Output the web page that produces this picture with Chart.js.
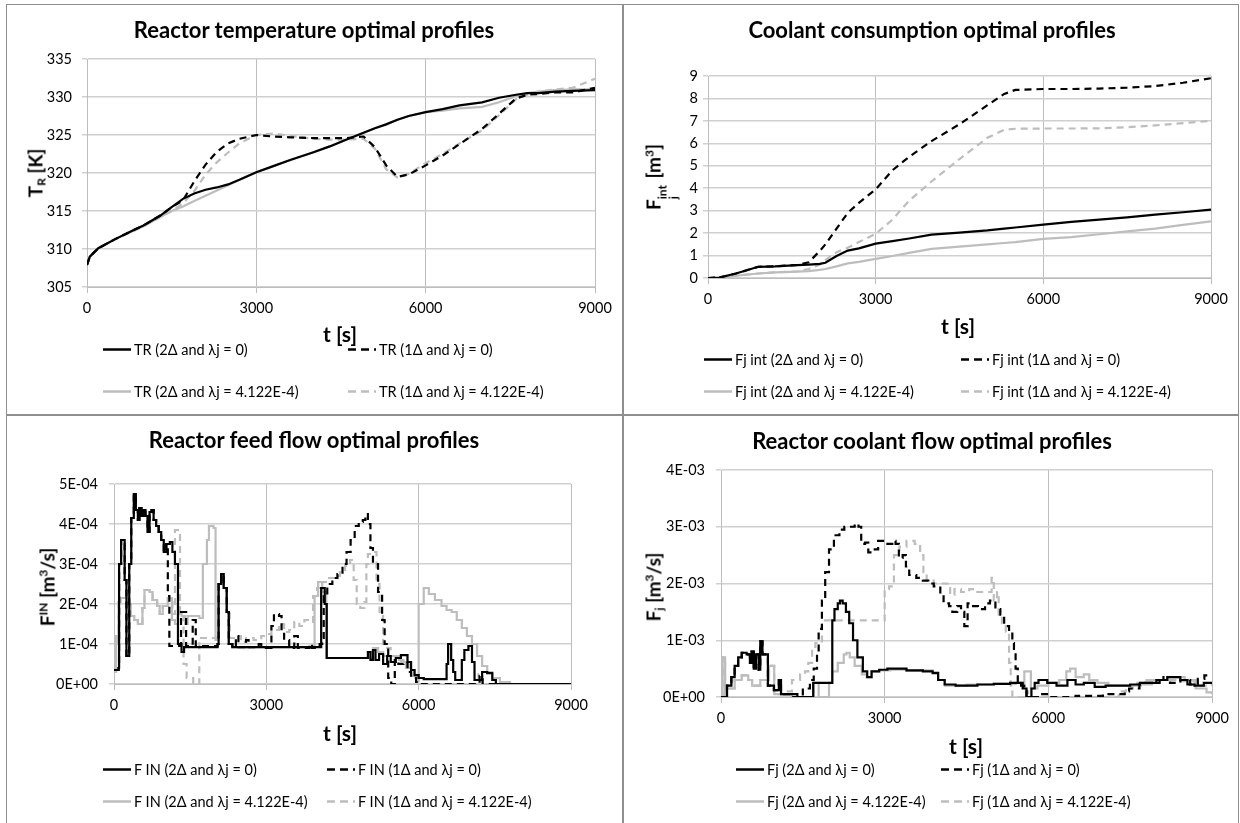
<!DOCTYPE html>
<html lang="en">
<head>
<meta charset="UTF-8">
<title>Reactor optimal profiles</title>
<script src="https://cdn.jsdelivr.net/npm/chart.js"></script>
<style>
  body { margin: 0; background: #fff; font-family: Lato, 'Noto Sans', sans-serif; color: #000; }
  #page { position: relative; width: 1240px; height: 823px; overflow: hidden; background: #fff; }
  .frame { position: absolute; left: 6px; top: 4px; width: 1231px; height: 830px; border: 1px solid #8e8e8e; }
  .vdiv { position: absolute; left: 622px; top: 5px; width: 2px; height: 818px; background: #8e8e8e; }
  .hdiv { position: absolute; left: 7px; top: 414px; width: 1231px; height: 2px; background: #8e8e8e; }
  .panel { position: absolute; }
  .title, .xtitle, .ytitle { position: absolute; font-weight: bold; white-space: nowrap; transform: translate(-50%, -50%); }
  .title { font-size: 22px; }
  .xtitle { font-size: 21px; }
  .ytitle { font-size: 19px; transform: translate(-50%, -50%) rotate(-90deg); }
  .ytitle sub { font-size: 12px; vertical-align: -3px; }
  .ytitle sup { font-size: 12px; vertical-align: 7px; }
  .ss { display: inline-flex; flex-direction: column; font-size: 12px; line-height: 11px; vertical-align: -6px; margin-right: 2px; }
  .item { position: absolute; display: flex; align-items: center; transform: translateY(-50%); white-space: nowrap; font-size: 14.5px; }
  .item svg { margin-right: 3px; }
</style>
</head>
<body>
<div id="page">
  <div class="frame"></div>
  <div class="vdiv"></div>
  <div class="hdiv"></div>
</div>
<script>
  // time axis
  const timeTicks = [0, 3000, 6000, 9000];

  // reactor temperature [K]
  const trTime = [0, 50, 200, 500, 800, 1000, 1300, 1500, 1700, 1900, 2100, 2300, 2500, 2700, 3000, 3300, 3600, 4000, 4300, 4600, 4900, 5100, 5300, 5500, 5700, 6000, 6300, 6600, 7000, 7300, 7600, 7800, 8000, 8300, 8600, 9000];
  const tr2d0 = [307.9, 309.0, 310.1, 311.3, 312.4, 313.1, 314.4, 315.5, 316.6, 317.3, 317.8, 318.1, 318.5, 319.1, 320.1, 320.9, 321.7, 322.7, 323.5, 324.4, 325.3, 325.9, 326.4, 327.0, 327.5, 328.0, 328.4, 328.9, 329.3, 329.9, 330.3, 330.5, 330.5, 330.7, 330.8, 330.9];
  const tr1d0 = [307.9, 309.0, 310.1, 311.3, 312.4, 313.1, 314.4, 315.5, 316.4, 318.9, 321.1, 322.8, 323.9, 324.5, 325.0, 324.8, 324.7, 324.6, 324.6, 324.6, 324.8, 323.4, 321.0, 319.5, 319.8, 321.0, 322.3, 323.8, 325.8, 327.8, 329.8, 330.3, 330.4, 330.6, 330.6, 331.2];
  const tr2dL = [307.9, 309.0, 310.1, 311.3, 312.3, 313.0, 314.2, 315.0, 315.6, 316.3, 317.0, 317.7, 318.4, 319.1, 320.1, 320.9, 321.7, 322.7, 323.5, 324.4, 325.3, 325.9, 326.4, 327.0, 327.5, 328.0, 328.2, 328.5, 328.7, 329.3, 330.1, 330.5, 330.7, 330.9, 331.0, 331.0];
  const tr1dL = [307.9, 309.0, 310.1, 311.3, 312.3, 313.0, 314.2, 315.0, 316.0, 317.6, 319.8, 321.4, 322.7, 323.9, 325.0, 325.2, 324.9, 324.5, 324.4, 324.4, 324.5, 323.2, 320.5, 319.4, 319.9, 321.3, 322.5, 323.9, 325.6, 327.6, 329.7, 330.3, 330.7, 331.0, 331.2, 332.4];

  // coolant consumption [m3]
  const fjTime = [0, 200, 500, 900, 1200, 1600, 1800, 2000, 2100, 2300, 2500, 2700, 3000, 3300, 3600, 4000, 4500, 5000, 5300, 5500, 6000, 6500, 7000, 7500, 8000, 8500, 9000];
  const fjInt2d0 = [0, 0.02, 0.2, 0.5, 0.52, 0.57, 0.6, 0.63, 0.68, 0.98, 1.22, 1.32, 1.53, 1.64, 1.76, 1.93, 2.02, 2.12, 2.2, 2.25, 2.38, 2.5, 2.6, 2.7, 2.82, 2.93, 3.05];
  const fjInt1d0 = [0, 0.02, 0.2, 0.5, 0.52, 0.58, 0.7, 1.2, 1.5, 2.2, 2.9, 3.35, 3.95, 4.8, 5.4, 6.1, 6.85, 7.7, 8.2, 8.38, 8.42, 8.42, 8.44, 8.48, 8.55, 8.7, 8.9];
  const fjInt2dL = [0, 0.01, 0.1, 0.2, 0.25, 0.28, 0.31, 0.36, 0.4, 0.52, 0.65, 0.72, 0.85, 0.98, 1.12, 1.3, 1.4, 1.5, 1.56, 1.6, 1.74, 1.82, 1.95, 2.08, 2.2, 2.37, 2.52];
  const fjInt1dL = [0, 0.01, 0.1, 0.2, 0.25, 0.3, 0.4, 0.6, 0.8, 1.15, 1.35, 1.6, 1.97, 2.6, 3.45, 4.3, 5.3, 6.25, 6.6, 6.65, 6.66, 6.66, 6.67, 6.72, 6.8, 6.9, 7.0];

  // reactor feed flow [m3/s], [t, value] steps
  const fin2d0 = [[0, 0.35e-4], [90, 0.4e-4], [100, 3.0e-4], [140, 3.6e-4], [210, 2.6e-4], [245, 0.7e-4], [300, 3.0e-4], [340, 4.15e-4], [390, 4.75e-4], [430, 4.35e-4], [470, 4.1e-4], [500, 4.4e-4], [540, 4.2e-4], [580, 4.35e-4], [620, 4.2e-4], [660, 3.8e-4], [700, 4.3e-4], [740, 4.35e-4], [780, 4.1e-4], [830, 3.95e-4], [880, 3.8e-4], [930, 3.6e-4], [980, 3.3e-4], [1030, 3.5e-4], [1100, 3.55e-4], [1150, 3.3e-4], [1200, 3.0e-4], [1260, 1.0e-4], [1330, 0.8e-4], [1380, 0.92e-4], [2040, 1.0e-4], [2060, 2.5e-4], [2110, 2.75e-4], [2160, 2.4e-4], [2220, 1.8e-4], [2260, 1.0e-4], [2330, 0.92e-4], [4020, 0.92e-4], [4080, 2.4e-4], [4150, 2.0e-4], [4190, 0.65e-4], [4950, 0.65e-4], [5000, 0.8e-4], [5050, 0.6e-4], [5100, 0.85e-4], [5150, 0.6e-4], [5220, 0.75e-4], [5300, 0.5e-4], [5380, 0.7e-4], [5450, 0.55e-4], [5550, 0.65e-4], [5650, 0.72e-4], [5780, 0.55e-4], [5850, 0.35e-4], [5920, 0.22e-4], [6000, 0.15e-4], [6100, 0.12e-4], [6550, 0.5e-4], [6580, 1.0e-4], [6640, 0.6e-4], [6680, 0.3e-4], [6720, 0.1e-4], [6850, 0.6e-4], [6900, 0.85e-4], [6980, 0.95e-4], [7050, 0.55e-4], [7100, 0.1e-4], [7250, 0.3e-4], [7350, 0.28e-4], [7450, 0.1e-4], [7520, 0], [9000, 0]];
  const fin1d0 = [[0, 0.35e-4], [90, 0.4e-4], [100, 3.0e-4], [140, 3.6e-4], [210, 2.6e-4], [245, 0.7e-4], [300, 3.0e-4], [340, 4.15e-4], [390, 4.75e-4], [430, 4.35e-4], [470, 4.1e-4], [500, 4.4e-4], [540, 4.2e-4], [580, 4.35e-4], [620, 4.2e-4], [660, 3.8e-4], [700, 4.3e-4], [740, 4.35e-4], [780, 4.1e-4], [830, 3.95e-4], [880, 3.8e-4], [930, 3.6e-4], [980, 3.3e-4], [1030, 3.5e-4], [1060, 2.2e-4], [1090, 0.95e-4], [1320, 1.8e-4], [1420, 0.95e-4], [1550, 1.6e-4], [1610, 0.95e-4], [2040, 1.0e-4], [2060, 2.5e-4], [2110, 2.75e-4], [2160, 2.4e-4], [2220, 1.8e-4], [2260, 1.0e-4], [2330, 0.92e-4], [2400, 1.2e-4], [2450, 0.92e-4], [2600, 1.1e-4], [2650, 0.92e-4], [2850, 1.0e-4], [2900, 0.9e-4], [3100, 1.45e-4], [3150, 1.75e-4], [3250, 1.7e-4], [3300, 1.3e-4], [3350, 1.1e-4], [3450, 0.9e-4], [3550, 1.2e-4], [3620, 0.9e-4], [3850, 1.0e-4], [3900, 0.9e-4], [4050, 1.0e-4], [4100, 1.15e-4], [4130, 2.2e-4], [4200, 2.5e-4], [4300, 2.65e-4], [4400, 2.75e-4], [4500, 3.0e-4], [4580, 3.3e-4], [4660, 3.6e-4], [4740, 3.95e-4], [4820, 4.05e-4], [4900, 4.1e-4], [4950, 4.25e-4], [5000, 4.0e-4], [5050, 3.4e-4], [5100, 3.0e-4], [5200, 2.3e-4], [5280, 1.6e-4], [5330, 1.0e-4], [5400, 0.15e-4], [5460, 0], [5530, 0.6e-4], [5600, 0.5e-4], [5700, 0.55e-4], [5780, 0.3e-4], [5850, 0.15e-4], [5950, 0.05e-4], [6000, 0], [7200, 0.2e-4], [7260, 0], [9000, 0]];
  const fin2dL = [[0, 0.3e-4], [40, 1.2e-4], [70, 1.0e-4], [90, 2.05e-4], [130, 2.15e-4], [280, 2.0e-4], [330, 1.7e-4], [400, 1.6e-4], [470, 1.5e-4], [560, 1.9e-4], [600, 2.35e-4], [700, 2.3e-4], [760, 2.1e-4], [850, 1.95e-4], [900, 1.75e-4], [960, 1.95e-4], [1060, 2.15e-4], [1140, 1.6e-4], [1200, 1.5e-4], [1260, 1.75e-4], [1330, 1.7e-4], [1400, 1.5e-4], [1450, 1.7e-4], [1600, 1.7e-4], [1680, 1.65e-4], [1750, 3.0e-4], [1830, 3.6e-4], [1870, 3.95e-4], [1960, 3.9e-4], [2000, 1.1e-4], [2060, 2.5e-4], [2110, 2.75e-4], [2160, 2.4e-4], [2220, 1.8e-4], [2260, 1.0e-4], [2330, 0.92e-4], [3950, 2.2e-4], [4020, 2.55e-4], [4100, 2.3e-4], [4180, 0.65e-4], [5100, 0.9e-4], [5200, 0.8e-4], [5300, 0.7e-4], [5650, 0.55e-4], [5750, 0.4e-4], [5850, 0.2e-4], [5950, 0.15e-4], [6000, 2.0e-4], [6100, 2.4e-4], [6200, 2.25e-4], [6320, 2.1e-4], [6450, 1.95e-4], [6550, 1.85e-4], [6650, 1.8e-4], [6750, 1.6e-4], [6850, 1.4e-4], [6950, 1.2e-4], [7050, 1.0e-4], [7150, 0.7e-4], [7250, 0.45e-4], [7350, 0.25e-4], [7450, 0.15e-4], [7600, 0.05e-4], [7800, 0], [9000, 0]];
  const fin1dL = [[0, 0.3e-4], [40, 1.2e-4], [70, 1.0e-4], [90, 2.05e-4], [130, 2.15e-4], [280, 2.0e-4], [330, 1.7e-4], [400, 1.6e-4], [470, 1.5e-4], [560, 1.9e-4], [600, 2.35e-4], [700, 2.3e-4], [760, 2.1e-4], [850, 1.95e-4], [900, 1.75e-4], [960, 1.95e-4], [1060, 2.15e-4], [1150, 1.75e-4], [1200, 3.85e-4], [1300, 1.7e-4], [1370, 0.5e-4], [1430, 0.15e-4], [1560, 0], [1680, 1.15e-4], [2060, 2.5e-4], [2110, 2.75e-4], [2160, 2.4e-4], [2220, 1.8e-4], [2280, 1.15e-4], [2400, 1.2e-4], [2500, 1.05e-4], [2600, 1.15e-4], [2750, 1.1e-4], [2900, 1.2e-4], [3000, 1.25e-4], [3100, 1.35e-4], [3250, 1.5e-4], [3350, 1.3e-4], [3450, 1.35e-4], [3550, 1.55e-4], [3650, 1.45e-4], [3750, 1.6e-4], [3850, 1.55e-4], [3920, 2.2e-4], [4000, 2.4e-4], [4100, 2.55e-4], [4200, 2.65e-4], [4350, 2.7e-4], [4450, 2.85e-4], [4550, 2.95e-4], [4650, 3.1e-4], [4720, 2.6e-4], [4780, 2.0e-4], [4850, 1.9e-4], [4930, 2.05e-4], [4970, 3.0e-4], [5000, 3.25e-4], [5100, 3.3e-4], [5170, 2.5e-4], [5230, 1.8e-4], [5300, 1.0e-4], [5380, 0.9e-4], [5450, 0.7e-4], [5550, 0.6e-4], [5700, 0.5e-4], [5800, 0.35e-4], [5900, 0.2e-4], [6000, 0], [7180, 0.25e-4], [7250, 0], [9000, 0]];

  // reactor coolant flow [m3/s], [t, value] steps
  const fj2d0 = [[0, 0], [110, 0.2e-3], [190, 0.35e-3], [250, 0.55e-3], [315, 0.7e-3], [380, 0.78e-3], [470, 0.75e-3], [530, 0.6e-3], [560, 0.8e-3], [600, 0.5e-3], [640, 0.75e-3], [690, 0.48e-3], [720, 0.98e-3], [760, 0.75e-3], [860, 0.2e-3], [970, 0.12e-3], [1060, 0.3e-3], [1100, 0.05e-3], [1400, 0], [1690, 0.25e-3], [2040, 1.35e-3], [2080, 1.55e-3], [2140, 1.65e-3], [2180, 1.7e-3], [2230, 1.65e-3], [2290, 1.5e-3], [2350, 1.3e-3], [2420, 1.0e-3], [2500, 0.7e-3], [2600, 0.45e-3], [2680, 0.35e-3], [2760, 0.45e-3], [2900, 0.48e-3], [3050, 0.5e-3], [3400, 0.47e-3], [3700, 0.45e-3], [3880, 0.42e-3], [3980, 0.3e-3], [4100, 0.22e-3], [4300, 0.2e-3], [4700, 0.22e-3], [5000, 0.23e-3], [5300, 0.25e-3], [5530, 0.15e-3], [5600, 0], [5690, 0.15e-3], [5750, 0.25e-3], [5820, 0.3e-3], [5980, 0.25e-3], [6150, 0.2e-3], [6350, 0.3e-3], [6500, 0.22e-3], [6650, 0.25e-3], [6850, 0.18e-3], [7050, 0.2e-3], [7500, 0.22e-3], [7680, 0.25e-3], [7980, 0.3e-3], [8180, 0.35e-3], [8420, 0.3e-3], [8550, 0.22e-3], [8680, 0.2e-3], [8850, 0.25e-3], [9000, 0.25e-3]];
  const fj1d0 = [[0, 0], [110, 0.2e-3], [190, 0.35e-3], [250, 0.55e-3], [315, 0.7e-3], [380, 0.78e-3], [470, 0.75e-3], [530, 0.6e-3], [560, 0.8e-3], [600, 0.5e-3], [640, 0.75e-3], [690, 0.48e-3], [720, 0.98e-3], [760, 0.75e-3], [860, 0.2e-3], [970, 0.12e-3], [1060, 0.3e-3], [1100, 0.05e-3], [1300, 0], [1500, 0.15e-3], [1630, 0.3e-3], [1700, 0.5e-3], [1760, 0.75e-3], [1790, 1.2e-3], [1850, 1.7e-3], [1910, 2.2e-3], [1980, 2.6e-3], [2070, 2.85e-3], [2170, 2.95e-3], [2260, 3.0e-3], [2450, 3.05e-3], [2520, 3.0e-3], [2570, 2.7e-3], [2640, 2.72e-3], [2700, 2.55e-3], [2770, 2.6e-3], [2880, 2.75e-3], [3000, 2.7e-3], [3140, 2.75e-3], [3200, 2.7e-3], [3260, 2.45e-3], [3330, 2.5e-3], [3390, 2.3e-3], [3450, 2.15e-3], [3580, 2.1e-3], [3700, 2.05e-3], [3800, 2.0e-3], [3900, 1.95e-3], [4020, 1.8e-3], [4080, 1.65e-3], [4180, 1.6e-3], [4240, 1.5e-3], [4330, 1.6e-3], [4400, 1.5e-3], [4460, 1.25e-3], [4520, 1.65e-3], [4620, 1.6e-3], [4710, 1.55e-3], [4840, 1.65e-3], [4930, 1.7e-3], [5030, 1.55e-3], [5120, 1.45e-3], [5190, 1.25e-3], [5280, 1.15e-3], [5340, 0.95e-3], [5370, 0.8e-3], [5400, 0.5e-3], [5440, 0.25e-3], [5500, 0.2e-3], [5560, 0.1e-3], [5600, 0], [5850, 0.05e-3], [6000, 0], [6500, 0.02e-3], [7000, 0.05e-3], [7400, 0.1e-3], [7480, 0.15e-3], [7670, 0.25e-3], [8040, 0.35e-3], [8110, 0.3e-3], [8230, 0.25e-3], [8420, 0.3e-3], [8600, 0.22e-3], [8740, 0.32e-3], [8860, 0.38e-3], [9000, 0.38e-3]];
  const fj2dL = [[0, 0], [30, 0.7e-3], [75, 0], [110, 0.15e-3], [250, 0.3e-3], [380, 0.38e-3], [500, 0.3e-3], [570, 0.2e-3], [720, 0.3e-3], [880, 0.55e-3], [975, 0.05e-3], [1300, 0], [1700, 0.25e-3], [1790, 0], [1980, 0.25e-3], [2040, 0.45e-3], [2140, 0.6e-3], [2250, 0.75e-3], [2300, 0.78e-3], [2360, 0.7e-3], [2450, 0.55e-3], [2580, 0.4e-3], [2670, 0.35e-3], [2760, 0.45e-3], [2900, 0.47e-3], [3100, 0.48e-3], [3400, 0.46e-3], [3700, 0.47e-3], [3880, 0.44e-3], [3980, 0.3e-3], [4100, 0.2e-3], [4500, 0.22e-3], [5000, 0.23e-3], [5400, 0.25e-3], [5560, 0.45e-3], [5680, 0.15e-3], [5800, 0.2e-3], [6000, 0.25e-3], [6200, 0.3e-3], [6330, 0.45e-3], [6400, 0.5e-3], [6500, 0.35e-3], [6650, 0.4e-3], [6750, 0.3e-3], [6900, 0.25e-3], [7100, 0.2e-3], [7700, 0.22e-3], [7900, 0.3e-3], [8200, 0.35e-3], [8500, 0.3e-3], [8700, 0.15e-3], [8900, 0.08e-3], [9000, 0.05e-3]];
  const fj1dL = [[0, 0], [30, 0.7e-3], [75, 0], [110, 0.15e-3], [250, 0.3e-3], [380, 0.38e-3], [500, 0.3e-3], [570, 0.2e-3], [720, 0.3e-3], [880, 0.55e-3], [975, 0.05e-3], [1150, 0.1e-3], [1300, 0.3e-3], [1450, 0.4e-3], [1540, 0.45e-3], [1600, 0.6e-3], [1670, 0.85e-3], [1730, 0.95e-3], [1850, 1.35e-3], [3000, 1.9e-3], [3080, 1.95e-3], [3170, 2.5e-3], [3270, 2.65e-3], [3400, 2.75e-3], [3550, 2.7e-3], [3650, 2.5e-3], [3710, 2.2e-3], [3770, 2.05e-3], [3900, 2.0e-3], [4150, 1.95e-3], [4200, 1.8e-3], [4280, 1.9e-3], [4400, 1.85e-3], [4550, 1.9e-3], [4650, 1.85e-3], [4780, 1.85e-3], [4960, 2.1e-3], [5000, 1.7e-3], [5060, 1.85e-3], [5090, 1.45e-3], [5150, 1.3e-3], [5220, 1.15e-3], [5280, 0.6e-3], [5310, 0.2e-3], [5340, 0], [5590, 0.1e-3], [5630, 0], [7290, 0.1e-3], [7420, 0.15e-3], [7550, 0.25e-3], [7800, 0.3e-3], [8100, 0.3e-3], [8430, 0.28e-3], [8680, 0.2e-3], [9000, 0.25e-3]];

  const legendCases = ['(2\u0394 and \u03bbj = 0)', '(1\u0394 and \u03bbj = 0)', '(2\u0394 and \u03bbj = 4.122E-4)', '(1\u0394 and \u03bbj = 4.122E-4)'];

  const FONT = "Lato, 'Noto Sans', sans-serif";
  const BLACK = '#000000';
  const GREY = '#bdbdbd';
  const DASH = [7, 5];

  const zip = (xs, ys) => xs.map((x, i) => ({ x: x, y: ys[i] }));
  const pairs = arr => arr.map(p => ({ x: p[0], y: p[1] }));
  const sci = v => v.toExponential(0).replace('e', 'E').replace(/([+-])(\d)$/, '$10$2');

  function makeSets(prefix, data, stepped) {
    const styles = [[BLACK, []], [BLACK, DASH], [GREY, []], [GREY, DASH]];
    return data.map((d, i) => ({
      label: prefix + ' ' + legendCases[i],
      data: d,
      borderColor: styles[i][0],
      borderDash: styles[i][1],
      borderWidth: 2.2,
      pointRadius: 0,
      stepped: stepped ? 'before' : false,
      tension: 0,
      fill: false
    }));
  }

  const page = document.getElementById('page');

  function addText(cls, html, x, y) {
    const d = document.createElement('div');
    d.className = cls;
    d.innerHTML = html;
    d.style.left = x + 'px';
    d.style.top = y + 'px';
    page.appendChild(d);
  }

  function addLegend(sets, rows, cols) {
    sets.forEach((s, i) => {
      const d = document.createElement('div');
      d.className = 'item';
      const dash = s.borderDash.length ? 'stroke-dasharray="8,5"' : '';
      d.innerHTML = '<svg width="28" height="4"><line x1="0" y1="2" x2="28" y2="2" stroke="' + s.borderColor + '" stroke-width="2.5" ' + dash + '/></svg>' + s.label;
      d.style.left = (cols[i % 2] - 31) + 'px';
      d.style.top = rows[Math.floor(i / 2)] + 'px';
      page.appendChild(d);
    });
  }

  function buildPanel(p) {
    const [bx, by, bw, bh] = p.box;
    const [l, t, r, b] = p.area;
    const xH = 40;
    const holder = document.createElement('div');
    holder.className = 'panel';
    holder.style.left = bx + 'px';
    holder.style.top = by + 'px';
    const cv = document.createElement('canvas');
    cv.width = bw;
    cv.height = bh;
    cv.style.width = bw + 'px';
    cv.style.height = bh + 'px';
    holder.appendChild(cv);
    page.appendChild(holder);

    new Chart(cv.getContext('2d'), {
      type: 'line',
      data: { datasets: p.sets },
      options: {
        responsive: false,
        animation: false,
        layout: { padding: { left: 0, top: t - by, right: bx + bw - r, bottom: by + bh - b - xH } },
        plugins: { legend: { display: false }, tooltip: { enabled: false } },
        scales: {
          x: {
            type: 'linear', min: 0, max: 9000,
            afterBuildTicks: s => { s.ticks = timeTicks.map(v => ({ value: v })); },
            ticks: { color: '#000', font: { family: FONT, size: 14.5 }, padding: 7, maxRotation: 0, callback: v => String(v) },
            grid: { color: '#bdbdbd', lineWidth: 1, tickLength: 6 },
            border: { color: '#bdbdbd' },
            afterFit: s => { s.height = xH; }
          },
          y: {
            min: p.yMin, max: p.yMax,
            ticks: { stepSize: p.yStep, color: '#000', font: { family: FONT, size: 14.5 }, padding: p.yPad, callback: p.yFmt },
            grid: { color: '#d0d0d0', lineWidth: 1.5, tickLength: 5 },
            border: { color: '#bdbdbd', width: 1 },
            afterFit: s => { s.width = l - bx; }
          }
        }
      }
    });

    addText('title', p.title, p.titleXY[0], p.titleXY[1]);
    addText('xtitle', 't [s]', p.xTitleXY[0], p.xTitleXY[1]);
    addText('ytitle', p.yTitle, p.yTitleXY[0], p.yTitleXY[1]);
    addLegend(p.sets, p.legRows, p.legCols);
  }

  buildPanel({
    box: [8, 6, 614, 408], area: [87, 59, 595, 287],
    yMin: 305, yMax: 335, yStep: 5, yPad: 10, yFmt: v => v,
    sets: makeSets('TR', [zip(trTime, tr2d0), zip(trTime, tr1d0), zip(trTime, tr2dL), zip(trTime, tr1dL)], false),
    title: 'Reactor temperature optimal profiles', titleXY: [314, 29],
    xTitleXY: [340, 333], yTitle: 'T<sub>R</sub> [K]', yTitleXY: [36, 173],
    legRows: [349, 391], legCols: [134, 379]
  });

  buildPanel({
    box: [624, 6, 614, 408], area: [708, 76, 1211, 278],
    yMin: 0, yMax: 9, yStep: 1, yPad: 5, yFmt: v => v,
    sets: makeSets('Fj int', [zip(fjTime, fjInt2d0), zip(fjTime, fjInt1d0), zip(fjTime, fjInt2dL), zip(fjTime, fjInt1dL)], false),
    title: 'Coolant consumption optimal profiles', titleXY: [932, 29],
    xTitleXY: [958, 325], yTitle: 'F<span class="ss"><span>int</span><span>j</span></span> [m<sup>3</sup>]', yTitleXY: [660, 177],
    legRows: [359, 391], legCols: [735, 992]
  });

  buildPanel({
    box: [8, 416, 614, 407], area: [114, 484, 571, 684],
    yMin: 0, yMax: 5e-4, yStep: 1e-4, yPad: 11, yFmt: v => sci(v),
    sets: makeSets('F IN', [pairs(fin2d0), pairs(fin1d0), pairs(fin2dL), pairs(fin1dL)], true),
    title: 'Reactor feed flow optimal profiles', titleXY: [314, 439],
    xTitleXY: [340, 732], yTitle: 'F<sup>IN</sup> [m<sup>3</sup>/s]', yTitleXY: [47, 587],
    legRows: [769, 801], legCols: [134, 358]
  });

  buildPanel({
    box: [624, 416, 614, 407], area: [721, 470, 1212, 697],
    yMin: 0, yMax: 4e-3, yStep: 1e-3, yPad: 11, yFmt: v => sci(v),
    sets: makeSets('Fj', [pairs(fj2d0), pairs(fj1d0), pairs(fj2dL), pairs(fj1dL)], true),
    title: 'Reactor coolant flow optimal profiles', titleXY: [932, 440],
    xTitleXY: [966, 745], yTitle: 'F<sub>j</sub> [m<sup>3</sup>/s]', yTitleXY: [654, 587],
    legRows: [769, 801], legCols: [767, 972]
  });
</script>
</body>
</html>
